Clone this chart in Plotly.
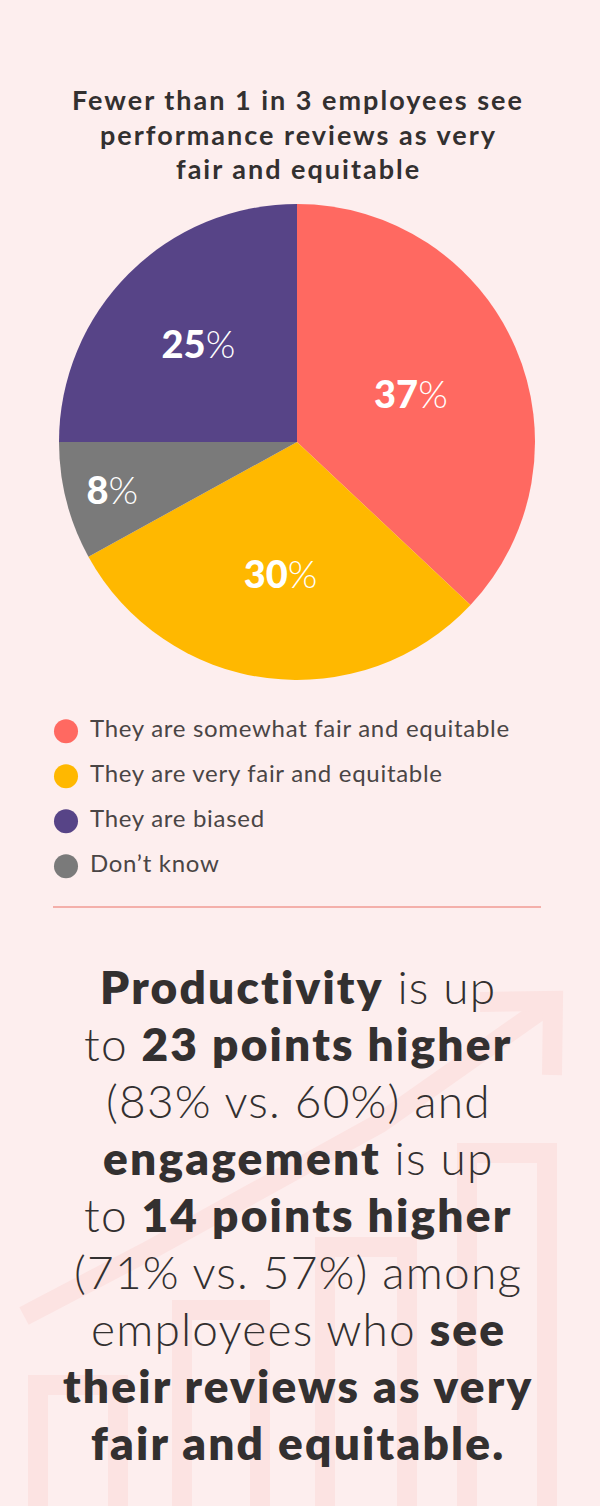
import plotly.graph_objects as go

# data
labels = ["They are somewhat fair and equitable", "They are very fair and equitable",
          "Don’t know", "They are biased"]
values = [37, 30, 8, 25]
colors = ["#FF6961", "#FFB800", "#7A7A7A", "#574487"]

legend_labels = ["They are somewhat fair and equitable", "They are very fair and equitable",
                 "They are biased", "Don’t know"]
legend_colors = ["#FF6961", "#FFB800", "#574487", "#7A7A7A"]

title_lines = ["Fewer than 1 in 3 employees see", "performance reviews as very", "fair and equitable"]
body_lines = [
    "<b>Productivity</b> is up",
    "to <b>23 points higher</b>",
    "(83% vs. 60%) and",
    "<b>engagement</b> is up",
    "to <b>14 points higher</b>",
    "(71% vs. 57%) among",
    "employees who <b>see</b>",
    "<b>their reviews as very</b>",
    "<b>fair and equitable.</b>",
]

W, H = 600, 1506
BG = "#FDEEEE"
DECO = "#FCE3E2"
FONT = "Lato"
INK = "#333030"


def py(p):
    # pixel row -> paper y
    return 1 - p / H


def styled(line):
    # regular parts light, bold parts heavy, with some letter spacing
    light = "<span style='font-weight:300;letter-spacing:1.2px'>"
    heavy = "<span style='font-weight:800;letter-spacing:2.2px'>"
    parts = line.replace("<b>", "</span>" + heavy).replace("</b>", "</span>" + light)
    return light + parts + "</span>"


fig = go.Figure()

fig.add_trace(go.Pie(
    labels=labels,
    values=values,
    sort=False,
    direction="clockwise",
    rotation=0,
    marker=dict(colors=colors, line=dict(width=0)),
    texttemplate="<span style='font-weight:900'>%{value}</span>%",
    textposition="inside",
    insidetextorientation="horizontal",
    textfont=dict(family=FONT, size=38, color="white", weight=300),
    insidetextfont=dict(family=FONT, size=38, color="white", weight=300),
    hoverinfo="label+percent",
    domain=dict(x=[59 / W, 535 / W], y=[py(680), py(204)]),
    showlegend=False,
))

# legend drawn as markers + text on a category axis
fig.add_trace(go.Scatter(
    x=[66] * len(legend_labels),
    y=legend_labels,
    mode="markers",
    marker=dict(size=24, color=legend_colors),
    hoverinfo="skip",
    showlegend=False,
))
fig.add_trace(go.Scatter(
    x=[90] * len(legend_labels),
    y=legend_labels,
    mode="text",
    text=[f"<span style='letter-spacing:0.7px'>{t}</span>" for t in legend_labels],
    textposition="middle right",
    textfont=dict(family=FONT, size=24, color="#4A4545", weight=400),
    hoverinfo="skip",
    showlegend=False,
))

# background decoration (faint bar chart + arrow), pixel coords on x2/y2
deco = []
for x0, x1, top in [(38, 118, 1385), (182, 260, 1310), (325, 407, 1247), (467, 547, 1153)]:
    deco.append(dict(type="path", xref="x2", yref="y2", layer="below",
                     path=f"M {x0} 1530 L {x0} {top} L {x1} {top} L {x1} 1530",
                     line=dict(color=DECO, width=20)))
deco.append(dict(type="path", xref="x2", yref="y2", layer="below",
                 path="M 24 1316 L 150 1250 L 380 1123 L 552 1002",
                 line=dict(color=DECO, width=20)))
deco.append(dict(type="path", xref="x2", yref="y2", layer="below",
                 path="M 480 1002 L 553 1001 L 552 1075",
                 line=dict(color=DECO, width=20)))
# separator line
deco.append(dict(type="line", xref="paper", yref="paper",
                 x0=53 / W, x1=541 / W, y0=py(907), y1=py(907),
                 line=dict(color="#F4AFAA", width=2)))

annotations = []
for i, t in enumerate(title_lines):
    annotations.append(dict(
        text=f"<span style='letter-spacing:2px'>{t}</span>",
        x=0.497, y=py(100 + 34 * i), xref="paper", yref="paper",
        xanchor="center", yanchor="middle", showarrow=False,
        font=dict(family=FONT, size=27, color=INK, weight=700)))
for i, t in enumerate(body_lines):
    annotations.append(dict(
        text=styled(t),
        x=0.497, y=py(986 + 57.1 * i), xref="paper", yref="paper",
        xanchor="center", yanchor="middle", showarrow=False,
        font=dict(family=FONT, size=46, color=INK)))

fig.update_layout(
    width=W, height=H,
    margin=dict(l=0, r=0, t=0, b=0),
    paper_bgcolor=BG, plot_bgcolor="rgba(0,0,0,0)",
    xaxis=dict(domain=[0, 1], range=[0, W], visible=False, fixedrange=True),
    yaxis=dict(domain=[py(888.75), py(708.75)], range=[3.5, -0.5],
               type="category", visible=False, fixedrange=True),
    xaxis2=dict(domain=[0, 1], range=[0, W], visible=False, anchor="y2"),
    yaxis2=dict(domain=[0, 1], range=[H, 0], visible=False, anchor="x2"),
    shapes=deco,
    annotations=annotations,
    showlegend=False,
)

fig.write_html("out.html", config={"displayModeBar": False},
               post_script="document.body.style.margin='0';document.body.style.background='%s';" % BG)
